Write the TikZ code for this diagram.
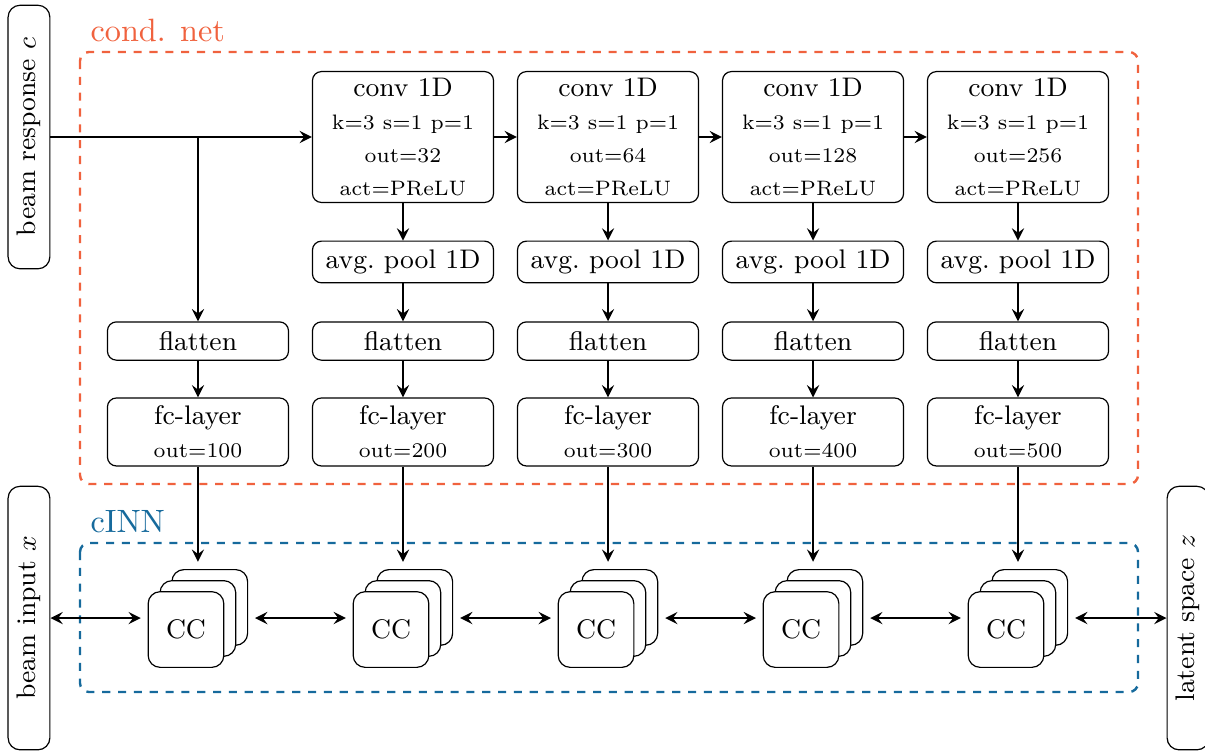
\documentclass[tikz,border=0pt]{standalone}
\usepackage{amsmath}
\usetikzlibrary{shadows}
\definecolor{condcolor}{RGB}{240,98,62}
\definecolor{inncolor}{RGB}{22,106,156}

\tikzset{
	block/.style = {draw, rounded corners = 3pt, fill = white, minimum width = 2.13cm, align = center, inner sep = 2pt},
	sidebox/.style = {draw, rounded corners = 4pt, rotate = 90, minimum width = 3.1cm, minimum height = 0.49cm, inner sep = 3pt},
	ccbox/.style = {draw, rounded corners = 4pt, fill = white, minimum size = 0.89cm,
		copy shadow = {shadow xshift = 0.28cm, shadow yshift = 0.26cm},
		copy shadow = {shadow xshift = 0.14cm, shadow yshift = 0.13cm}},
	group/.style = {thick, dash pattern = on 2.7pt off 2.6pt, rounded corners = 3pt},
	grouplabel/.style = {anchor = south west, font = \fontsize{10.8}{13}\selectfont},
	conn/.style = {thick, -stealth},
	both/.style = {thick, stealth-stealth},
}

\begin{document}
\begin{tikzpicture}[every node/.style = {font = \small}]
	\useasboundingbox (0, 0) rectangle (14.176, -8.859);
	% the two groups
	\draw[group, condcolor] (0.941, -0.612) rectangle (13.388, -5.694);
	\node[grouplabel, condcolor] (condlabel) at (0.941, -0.612) {cond. net};
	\draw[group, inncolor] (0.941, -6.388) rectangle (13.388, -8.141);
	\node[grouplabel, inncolor] (innlabel) at (0.941, -6.388) {cINN};
	% inputs and output
	\node[sidebox] (resp) at (0.341, -1.612) {beam response $c$};
	\node[sidebox] (inp) at (0.341, -7.271) {beam input $x$};
	\node[sidebox] (lat) at (13.976, -7.271) {latent space $z$};
	% one column per fc-layer
	\foreach \i/\x/\f in {1/2.329/100, 2/4.741/200, 3/7.153/300, 4/9.565/400, 5/11.976/500}
	{
		\node[block, minimum height = 0.45cm] (flat\i) at (\x, -4.012) {flatten};
		\node[block, minimum height = 0.8cm, font = \scriptsize] (fc\i) at (\x, -5.082) {{\small fc-layer}\\[3pt] out=\f};
		\node[minimum width = 1.33cm, minimum height = 1.31cm] (cc\i) at (\x, -7.271) {};
		\node[ccbox] (ccf\i) at (\x - 0.141, -7.406) {CC};
		\draw[conn] (flat\i) -- (fc\i);
		\draw[conn] (fc\i) -- (cc\i);
	}
	\foreach \i/\x/\c in {2/4.741/32, 3/7.153/64, 4/9.565/128, 5/11.976/256}
	{
		\node[block, minimum height = 1.54cm, font = \scriptsize] (conv\i) at (\x, -1.612)
			{{\small conv 1D}\\[3pt] k=3 s=1 p=1\\[3pt] out=\c\\[3pt] act=PReLU};
		\node[block, minimum height = 0.49cm] (pool\i) at (\x, -3.082) {avg.\ pool 1D};
		\draw[conn] (conv\i) -- (pool\i);
		\draw[conn] (pool\i) -- (flat\i);
	}
	% conditioning path
	\draw[conn] (resp) -- (conv2);
	\draw[conn] (resp -| flat1) -- (flat1);
	\foreach \i [evaluate = \i as \j using int(\i + 1)] in {2, 3, 4}
		\draw[conn] (conv\i) -- (conv\j);
	% invertible path
	\draw[both] (inp) -- (cc1);
	\foreach \i [evaluate = \i as \j using int(\i + 1)] in {1, 2, 3, 4}
		\draw[both] (cc\i) -- (cc\j);
	\draw[both] (cc5) -- (lat);
\end{tikzpicture}
\end{document}
